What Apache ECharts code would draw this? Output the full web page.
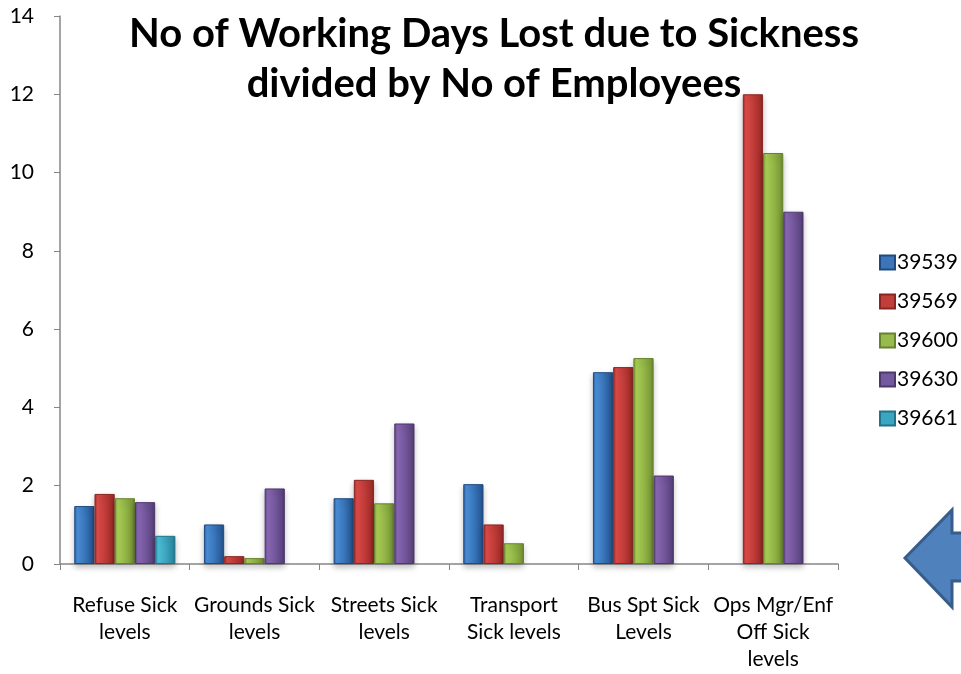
<!DOCTYPE html>
<html><head><meta charset="utf-8">
<script src="https://cdn.jsdelivr.net/npm/echarts@6/dist/echarts.min.js"></script>
<style>html,body{margin:0;padding:0;background:#fff}#c{width:961px;height:674px}</style>
</head><body><div id="c"></div>
<script>
const categories = ['Refuse Sick\nlevels','Grounds Sick\nlevels','Streets Sick\nlevels','Transport\nSick levels','Bus Spt Sick\nLevels','Ops Mgr/Enf\nOff Sick\nlevels'];
const seriesNames = ['39539','39569','39600','39630','39661'];
const s39539 = [1.48, 1.01, 1.68, 2.04, 4.90, null];
const s39569 = [1.79, 0.20, 2.15, 1.01, 5.03, 12.0];
const s39600 = [1.68, 0.15, 1.55, 0.53, 5.26, 10.5];
const s39630 = [1.58, 1.93, 3.59, null, 2.26, 9.0];
const s39661 = [0.72, null, null, null, null, null];
const yTicks = [0,2,4,6,8,10,12,14];

const palette = [
  ['#2a5f9e','#4a8fd9','#2a5f9e','#1f4a80'],
  ['#a02c2a','#dc4b48','#a82f2c','#8a2523'],
  ['#7a9a38','#a9cf55','#7f9f3a','#66822c'],
  ['#5c4480','#8a68b5','#604785','#4c3869'],
  ['#2a8aa3','#4ec0da','#2c8ea8','#21738a']
];
const legendColors = ['#3b76bb','#c23e3b','#97bc4b','#7559a0','#3aa6c0'];
function grad(p){
  return new echarts.graphic.LinearGradient(0,0,1,0,[
    {offset:0,color:p[0]},{offset:0.15,color:p[1]},{offset:0.85,color:p[2]},{offset:1,color:p[3]}
  ]);
}
const data = [s39539,s39569,s39600,s39630,s39661];
const chart = echarts.init(document.getElementById('c'));
const series = data.map((d,i)=>({
  name: seriesNames[i], type:'bar', data:d,
  barGap:'0%', barCategoryGap:'22%',
  itemStyle:{color:grad(palette[i]), borderColor:palette[i][3], borderWidth:1,
    shadowColor:'rgba(0,0,0,0.25)', shadowBlur:6, shadowOffsetY:3},
  emphasis:{disabled:true}
}));
chart.setOption({
  animation:false,
  textStyle:{fontFamily:'Lato, "Open Sans", sans-serif'},
  title:{text:'No of Working Days Lost due to Sickness\ndivided by No of Employees',
    left:489, top:4, textAlign:'center',
    textStyle:{fontSize:40, fontWeight:'bold', color:'#000', lineHeight:50, fontFamily:'Lato, "Open Sans", sans-serif'}},
  legend:{orient:'vertical', left:874, top:247, itemWidth:15, itemHeight:14, itemGap:18,
    textStyle:{fontSize:21, color:'#000', padding:[0,0,0,-3]},
    data: seriesNames.map((n,i)=>({name:n, icon:'rect', itemStyle:{color:legendColors[i]}}))},
  grid:{left:60, right:123, top:16, bottom:110},
  xAxis:{type:'category', data:categories,
    axisLine:{lineStyle:{color:'#868686', width:1.5}},
    axisTick:{show:true, alignWithLabel:false, length:6, lineStyle:{color:'#868686'}},
    axisLabel:{fontSize:21, color:'#000', lineHeight:27, margin:28, interval:0}},
  yAxis:{type:'value', min:0, max:14, interval:2,
    axisLine:{show:true, lineStyle:{color:'#868686', width:1.5}},
    axisTick:{show:true, length:6, lineStyle:{color:'#868686'}},
    splitLine:{show:false},
    axisLabel:{fontSize:21, color:'#000', margin:26,
      formatter:v=>yTicks.includes(v)?String(v):''}},
  series: series,
  graphic:[{type:'polygon', z:10,
    shape:{points:[[905,558],[952,510],[952,533],[975,533],[975,581],[952,581],[952,607]]},
    style:{fill:'#4f81bd', stroke:'#385d8a', lineWidth:3}}]
});
</script></body></html>
